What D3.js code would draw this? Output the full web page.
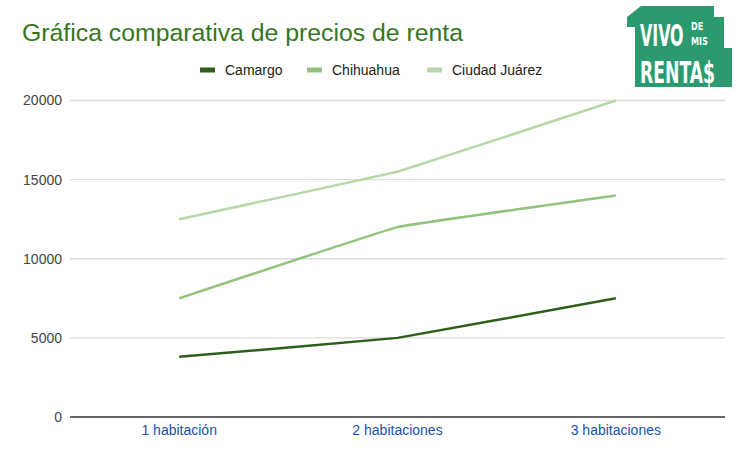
<!DOCTYPE html>
<html>
<head>
<meta charset="utf-8">
<script src="https://cdn.jsdelivr.net/npm/d3@7"></script>
<style>
  body { margin: 0; background: #fff; }
  text { font-family: Arial, "Liberation Sans", sans-serif; }
</style>
</head>
<body>
<script>
// size of window
var width = 746;
var height = 455;

// data
var categories = ["1 habitación", "2 habitaciones", "3 habitaciones"];
var seriesNames = ["Camargo", "Chihuahua", "Ciudad Juárez"];
var camargo = [3800, 5000, 7500];
var chihuahua = [7500, 12000, 14000];
var juarez = [12500, 15500, 20000];
var yTicks = [0, 5000, 10000, 15000, 20000];
var colors = ["#2f5e1c", "#93c47d", "#b6d7a8"];

var series = [camargo, chihuahua, juarez];

var margin = {left: 70, right: 21, top: 100.5, bottom: 38};

var svg = d3.select("body").append("svg")
  .attr("width", width).attr("height", height);

// title
svg.append("text")
  .attr("x", 22).attr("y", 41)
  .attr("fill", "#38761d")
  .style("font-size", "24.8px")
  .text("Gráfica comparativa de precios de renta");

var x = d3.scaleBand()
  .domain(categories)
  .range([margin.left, width - margin.right]);

var y = d3.scaleLinear()
  .domain([0, 20000])
  .range([height - margin.bottom, margin.top]);

// gridlines
svg.append("g")
  .selectAll("line")
  .data(yTicks.slice(1))
  .enter().append("line")
  .attr("x1", margin.left).attr("x2", width - margin.right)
  .attr("y1", function(d){ return y(d); })
  .attr("y2", function(d){ return y(d); })
  .attr("stroke", "#dcdcdc")
  .attr("stroke-width", 1.3);

// y axis labels
var yAxis = d3.axisLeft(y).tickValues(yTicks).tickFormat(d3.format("d"))
  .tickSize(0).tickPadding(8);
var yg = svg.append("g")
  .attr("transform", "translate(" + margin.left + ",0)")
  .call(yAxis);
yg.select(".domain").remove();
yg.selectAll("text").style("font-size", "14px").attr("fill", "#444");

// baseline
svg.append("line")
  .attr("x1", margin.left).attr("x2", width - margin.right)
  .attr("y1", y(0)).attr("y2", y(0))
  .attr("stroke", "#333").attr("stroke-width", 1.5);

// x axis labels
var xAxis = d3.axisBottom(x).tickSize(0).tickPadding(8);
var xg = svg.append("g")
  .attr("transform", "translate(0," + y(0) + ")")
  .call(xAxis);
xg.select(".domain").remove();
xg.selectAll("text").style("font-size", "14px").attr("fill", "#1c4fae");

// lines
var line = d3.line()
  .x(function(d, i){ return x(categories[i]) + x.bandwidth() / 2; })
  .y(function(d){ return y(d); })
  .curve(d3.curveCardinal.tension(0.85));

svg.append("g")
  .selectAll("path")
  .data(series)
  .enter().append("path")
  .attr("fill", "none")
  .attr("stroke", function(d, i){ return colors[i]; })
  .attr("stroke-width", 2.5)
  .attr("stroke-linejoin", "round")
  .attr("d", line);

// legend
var legendX = [200, 307, 427];
var legend = svg.append("g").selectAll("g")
  .data(seriesNames)
  .enter().append("g")
  .attr("transform", function(d, i){ return "translate(" + legendX[i] + ",70)"; });
legend.append("rect")
  .attr("x", 0).attr("y", -2.5).attr("width", 15).attr("height", 5)
  .attr("fill", function(d, i){ return colors[i]; });
legend.append("text")
  .attr("x", 25).attr("y", 5)
  .style("font-size", "14px")
  .attr("fill", "#222")
  .text(function(d){ return d; });

// logo
var logo = svg.append("g");
logo.append("polygon")
  .attr("points", "627,17 641,6 714,6 714,17 724,17 724,48 732,48 732,87 635,87 635,27 627,27")
  .attr("fill", "#2b9a6e");
logo.append("line")
  .attr("x1", 632).attr("y1", 27).attr("x2", 632).attr("y2", 84)
  .attr("stroke", "#fff").attr("stroke-width", 1);
var logoFont = "'DejaVu Sans Condensed', sans-serif";
logo.append("text")
  .attr("transform", "translate(640,46) scale(0.8,1.35)")
  .attr("fill", "#fff")
  .style("font-family", logoFont)
  .style("font-weight", "bold").style("font-size", "22px")
  .text("VIVO");
logo.append("text")
  .attr("transform", "translate(691,30) scale(0.9,1.1)")
  .attr("fill", "#fff")
  .style("font-family", logoFont)
  .style("font-weight", "bold").style("font-size", "10px")
  .text("DE");
logo.append("text")
  .attr("transform", "translate(691,45) scale(0.9,1.1)")
  .attr("fill", "#fff")
  .style("font-family", logoFont)
  .style("font-weight", "bold").style("font-size", "10px")
  .text("MIS");
logo.append("text")
  .attr("transform", "translate(640,83) scale(0.87,1.35)")
  .attr("fill", "#fff")
  .style("font-family", logoFont)
  .style("font-weight", "bold").style("font-size", "22px")
  .text("RENTA$");
</script>
</body>
</html>
